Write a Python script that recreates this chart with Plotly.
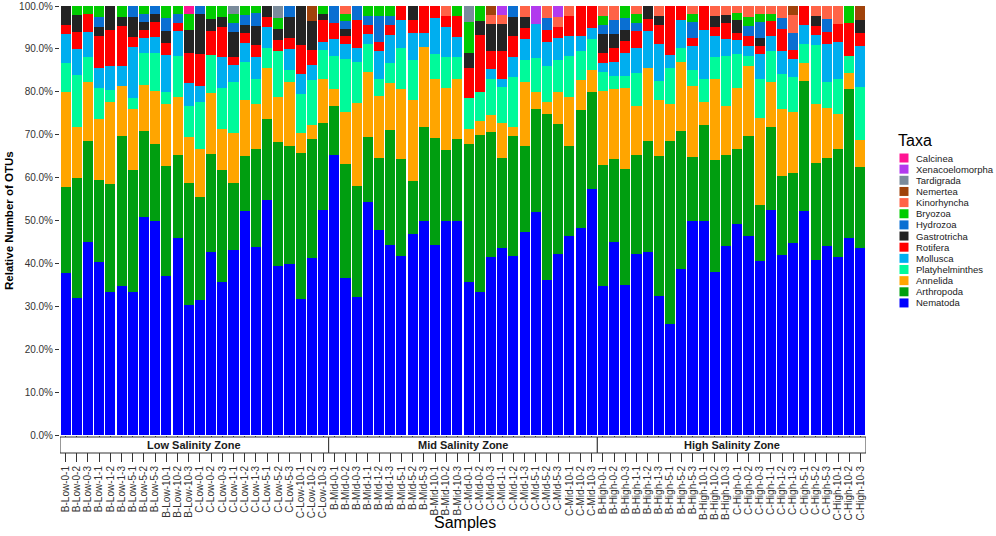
import plotly.graph_objects as go

# sample names: zone / site / depth / replicate
zones = ["Low", "Mid", "High"]
zone_titles = ["Low Salinity Zone", "Mid Salinity Zone", "High Salinity Zone"]
samples = [f"{s}-{z}-{d}-{r}" for z in zones for s in ["B", "C"]
           for d in [0, 1, 5, 10] for r in [1, 2, 3]]

# taxa, bottom of the stack first
taxa = ["Nematoda", "Arthropoda", "Annelida", "Platyhelminthes", "Mollusca", "Rotifera",
        "Gastrotricha", "Hydrozoa", "Bryozoa", "Kinorhyncha", "Nemertea", "Tardigrada",
        "Xenacoelomorpha", "Calcinea"]
colors = ["#0000FF", "#009E10", "#FFA500", "#00FA9A", "#00AEEF", "#FF0000",
          "#232323", "#0A6FD2", "#00CC00", "#FF6347", "#A0420A", "#7A8B9B",
          "#B23AEE", "#FF1493"]

y_ticks = [0, 10, 20, 30, 40, 50, 60, 70, 80, 90, 100]
y_ticklabels = ["0.0%", "10.0%", "20.0%", "30.0%", "40.0%", "50.0%",
                "60.0%", "70.0%", "80.0%", "90.0%", "100.0%"]

# relative number of OTUs (%) per sample
nematoda = [37.7, 32.0, 45.0, 40.3, 33.3, 34.7, 33.3, 50.8, 49.9, 37.1, 46.0, 30.3,
            31.5, 42.7, 35.7, 43.1, 52.1, 43.9, 54.7, 39.4, 39.8, 31.8, 41.2, 52.4,
            65.3, 36.7, 32.2, 54.3, 47.8, 44.3, 41.7, 46.8, 49.9, 44.3, 49.9, 49.9,
            35.7, 33.3, 41.6, 43.7, 41.7, 47.4, 52.0, 36.1, 42.3, 46.4, 48.2, 57.4,
            34.7, 45.1, 35.0, 42.3, 42.7, 32.4, 25.8, 38.6, 49.9, 49.9, 38.0, 44.1,
            49.1, 46.4, 40.6, 52.4, 42.0, 44.8, 52.1, 40.8, 44.1, 41.6, 46.0, 43.7]
arthropoda = [20.0, 28.0, 23.5, 19.1, 25.1, 35.0, 28.5, 20.1, 17.9, 25.6, 19.3, 28.5,
              24.0, 22.9, 26.1, 15.7, 12.9, 22.7, 19.0, 28.9, 27.6, 34.0, 27.7, 20.4,
              11.5, 26.4, 25.8, 15.2, 16.7, 26.7, 22.7, 12.4, 21.9, 25.0, 16.6, 19.0,
              32.1, 36.6, 29.0, 20.8, 28.0, 20.0, 23.9, 38.8, 30.1, 21.0, 27.6, 22.6,
              28.2, 19.3, 27.1, 23.0, 25.8, 32.6, 42.7, 32.3, 14.9, 22.3, 26.1, 21.2,
              17.5, 23.3, 13.0, 19.4, 18.4, 16.2, 30.4, 22.7, 20.5, 25.0, 34.7, 18.8]
annelida = [22.3, 11.9, 13.8, 14.3, 19.2, 11.7, 14.3, 10.8, 12.5, 14.4, 13.5, 10.7,
            11.1, 14.2, 9.6, 11.7, 13.1, 10.5, 11.9, 10.6, 14.9, 4.5, 3.4, 10.3,
            3.9, 12.2, 19.3, 15.1, 14.5, 11.1, 16.2, 18.8, 18.7, 13.8, 14.3, 14.2,
            3.6, 3.3, 4.1, 8.3, 2.2, 14.9, 4.1, 2.7, 7.6, 11.5, 6.9, 5.0,
            17.4, 16.2, 18.9, 11.4, 17.1, 13.1, 8.6, 16.1, 16.6, 5.4, 19.0, 11.5,
            14.2, 16.2, 20.4, 10.6, 15.7, 14.4, 4.3, 13.6, 11.7, 8.3, 3.8, 6.2]
platyhelminthes = [6.6, 12.0, 5.8, 7.3, 2.8, 0, 2.4, 7.3, 8.8, 2.9, 9.5, 7.2,
                   11.1, 8.7, 9.4, 11.8, 8.8, 6.0, 4.7, 10.5, 2.7, 9.1, 10.4, 6.6,
                   7.6, 12.4, 9.6, 6.5, 4.1, 4.5, 9.5, 9.3, 0, 5.6, 7.2, 4.9,
                   7.1, 6.8, 8.4, 8.3, 11.6, 5.0, 7.8, 8.4, 7.4, 9.4, 6.8, 7.4,
                   4.3, 3.1, 2.7, 7.8, 0, 4.4, 8.5, 3.3, 3.7, 5.5, 4.9, 11.5,
                   7.9, 2.4, 9.1, 7.0, 8.1, 8.1, 4.3, 13.7, 6.0, 8.2, 3.8, 12.4]
mollusca = [6.8, 6.0, 5.8, 4.6, 5.6, 4.6, 11.9, 3.6, 3.7, 8.5, 5.9, 5.4,
            3.7, 0, 7.3, 3.9, 4.4, 4.9, 4.9, 0, 4.9, 4.7, 3.5, 1.8,
            3.9, 3.4, 3.4, 2.3, 6.4, 6.6, 6.6, 6.3, 3.1, 8.4, 7.1, 4.8,
            0, 0, 2.1, 2.0, 4.7, 5.1, 8.1, 5.6, 5.1, 4.7, 3.5, 2.5,
            2.2, 3.3, 5.4, 5.8, 8.6, 8.7, 3.0, 6.4, 5.6, 11.3, 4.9, 3.9,
            3.4, 2.4, 5.8, 3.6, 5.3, 4.2, 4.5, 2.4, 8.9, 8.5, 0, 9.6]
rotifera = [2.2, 4.0, 4.2, 7.3, 8.4, 9.3, 2.4, 1.8, 3.5, 2.8, 1.9, 7.0,
            7.5, 5.7, 7.0, 2.0, 2.3, 2.8, 2.3, 2.7, 2.6, 6.7, 3.5, 5.2,
            3.9, 1.8, 6.4, 2.2, 2.1, 2.3, 3.3, 3.1, 6.4, 2.9, 2.6, 4.9,
            7.1, 13.2, 4.3, 6.4, 4.7, 2.4, 0, 2.7, 2.5, 4.7, 7.0, 5.1,
            2.3, 3.3, 2.7, 3.9, 2.8, 4.4, 11.4, 3.3, 1.8, 5.6, 2.3, 3.9,
            1.5, 2.3, 1.8, 3.5, 5.1, 2.0, 4.4, 2.1, 2.8, 4.1, 7.8, 2.9]
gastrotricha = [4.4, 4.0, 0, 2.2, 5.6, 2.2, 4.7, 1.9, 1.8, 2.9, 0, 5.3,
                9.2, 2.8, 2.4, 5.8, 2.0, 4.5, 2.5, 2.5, 5.0, 9.2, 6.8, 1.5,
                0, 1.8, 0, 0, 0, 0, 0, 3.3, 0, 0, 0, 0,
                3.5, 3.3, 6.2, 6.2, 4.6, 2.7, 0, 0, 0, 0, 0, 0,
                4.3, 3.1, 2.6, 0, 3.0, 2.1, 0, 0, 0, 0, 2.5, 1.8,
                3.1, 0, 1.8, 0, 0, 0, 0, 2.4, 0, 0, 0, 3.1]
hydrozoa = [0, 0, 0, 2.4, 0, 0, 2.5, 1.8, 1.9, 2.9, 2.0, 0,
            1.9, 0, 0, 2.1, 2.2, 3.1, 0, 0, 2.5, 0, 0, 0,
            3.9, 1.8, 3.3, 2.1, 6.1, 2.2, 0, 0, 0, 0, 0, 0,
            0, 0, 0, 0, 2.5, 0, 0, 2.8, 0, 0, 0, 0,
            2.2, 3.3, 2.7, 1.9, 0, 0, 0, 0, 3.8, 0, 0, 0,
            0, 2.3, 3.8, 0, 2.7, 4.1, 0, 0, 3.0, 0, 0, 0]
bryozoa = [0, 2.1, 1.9, 2.5, 0, 2.5, 0, 1.9, 0, 2.9, 1.9, 3.7,
           0, 3.0, 2.5, 2.0, 2.2, 1.6, 0, 2.7, 0, 0, 0, 1.8,
           0, 1.7, 0, 2.3, 2.3, 2.3, 0, 0, 0, 0, 0, 2.3,
           7.2, 3.5, 0, 0, 0, 0, 0, 0, 0, 0, 0, 0,
           2.1, 0, 2.9, 2.0, 0, 0, 0, 0, 1.8, 0, 0, 0,
           1.7, 2.2, 1.8, 1.6, 0, 0, 0, 0, 0, 0, 3.9, 0]
kinorhyncha = [0] * 24 + \
              [0, 1.8, 0, 0, 0, 0, 0, 0, 0, 0, 2.3, 0,
               0, 0, 2.1, 2.1, 0, 2.5, 0, 2.9, 2.5, 2.3, 0, 0,
               2.3, 3.3, 0, 1.9, 0, 2.3, 0, 0, 1.9, 0, 2.3, 2.1,
               1.6, 2.5, 1.9, 1.9, 2.7, 4.1, 0, 2.3, 3.0, 4.3, 0, 0]
nemertea = [0] * 22 + [3.5, 0] + \
           [0] * 14 + [2.2] + [0] * 9 + \
           [0] * 17 + [2.1] + [0] * 5 + [3.3]
tardigrada = [0] * 15 + [1.9, 0, 0, 0, 2.7, 0, 0, 0, 0] + \
             [0] * 12 + [3.7] + [0] * 11 + [0] * 24
xenacoelomorpha = [0] * 24 + [0] * 15 + [2.2, 0, 0, 4.1, 0, 2.5, 0, 0, 0] + [0] * 24
calcinea = [0] * 11 + [1.9] + [0] * 60

values = [nematoda, arthropoda, annelida, platyhelminthes, mollusca, rotifera,
          gastrotricha, hydrozoa, bryozoa, kinorhyncha, nemertea, tardigrada,
          xenacoelomorpha, calcinea]

fig = go.Figure()
for name, col, vals in zip(taxa, colors, values):
    fig.add_trace(go.Bar(x=samples, y=vals, name=name, marker_color=col,
                         marker_line_width=0, showlegend=False))

# ---- geometry helpers (pixels -> paper) ----
L, R, T, B = 60, 130, 6, 101
W, H = 996, 536
pw, ph = W - L - R, H - T - B
def px(x):
    return (x - L) / pw
def py(y):
    return (H - B - y) / ph

shapes = []
annotations = []

# facet strips under the bars
for i, title in enumerate(zone_titles):
    shapes.append(dict(type="rect", xref="x", yref="paper",
                       x0=i * 24 - 0.5, x1=i * 24 + 23.5, y0=py(453), y1=py(437),
                       fillcolor="white", line=dict(color="#333333", width=1),
                       layer="above"))
    annotations.append(dict(x=i * 24 + 11.5, xref="x", y=py(445.5), yref="paper",
                            yanchor="middle", text="<b>" + title + "</b>",
                            showarrow=False, font=dict(size=11, color="#1a1a1a")))

# legend drawn by hand (compact like ggplot)
annotations.append(dict(x=px(896), y=py(140), xref="paper", yref="paper",
                        xanchor="left", yanchor="middle", text="Taxa", showarrow=False,
                        font=dict(size=16, color="black")))
for i, (name, col) in enumerate(zip(taxa[::-1], colors[::-1])):
    yc = 158 + i * 11.15
    shapes.append(dict(type="rect", xref="paper", yref="paper",
                       x0=px(899.5), x1=px(908.5), y0=py(yc + 4.5), y1=py(yc - 4.5),
                       fillcolor=col, line=dict(width=0)))
    annotations.append(dict(x=px(914), y=py(yc), xref="paper", yref="paper",
                            xanchor="left", yanchor="middle", text=name,
                            showarrow=False, font=dict(size=9.5, color="#1a1a1a")))

# axis titles
annotations.append(dict(x=px(465), y=py(522), xref="paper", yref="paper",
                        yanchor="middle", text="Samples", showarrow=False,
                        font=dict(size=16, color="black")))
annotations.append(dict(x=px(9), y=py(221), xref="paper", yref="paper",
                        xanchor="center", yanchor="middle",
                        text="<b>Relative Number of OTUs</b>", textangle=-90,
                        showarrow=False, font=dict(size=11.5, color="black")))

fig.update_layout(
    barmode="stack",
    bargap=0.1,
    width=W, height=H,
    margin=dict(l=L, r=R, t=T, b=B, autoexpand=False),
    plot_bgcolor="white",
    paper_bgcolor="white",
    font=dict(family="Liberation Sans, Arial", color="#333333"),
    shapes=shapes,
    annotations=annotations,
    xaxis=dict(type="category", categoryorder="array", categoryarray=samples,
               tickmode="array", tickvals=samples, ticktext=samples,
               range=[-0.5, len(samples) - 0.5], automargin=False,
               tickangle=-90, tickfont=dict(size=10, color="#333333"),
               ticks="outside", ticklen=26, tickcolor="#333333",
               showgrid=False, showline=False, zeroline=False),
    yaxis=dict(range=[0, 100], tickmode="array", tickvals=y_ticks,
               ticktext=y_ticklabels, automargin=False,
               tickfont=dict(size=10, color="#333333"),
               ticks="outside", ticklen=4, tickcolor="#333333",
               showgrid=False, showline=False, zeroline=False),
)

# page body has a default 8px margin; drop it so the figure sits at the corner
fig.write_html("out.html", config={"displayModeBar": False},
               post_script="document.body.style.margin='0px';")
